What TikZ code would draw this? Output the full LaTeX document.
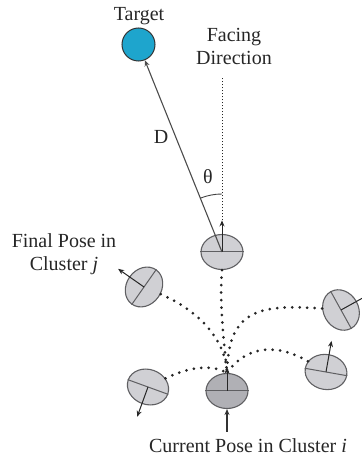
\documentclass[tikz,border=0pt]{standalone}
\usepackage{fontspec}
\setmainfont{Liberation Serif}
\newfontfamily\labelfont{Liberation Serif}
\usetikzlibrary{arrows.meta,shapes.geometric,calc}
\definecolor{targetblue}{RGB}{30,165,205}
\definecolor{poselight}{RGB}{208,208,212}
\definecolor{posedark}{RGB}{176,176,181}
\definecolor{edgegray}{RGB}{95,95,98}
\begin{document}
\begin{tikzpicture}[x=1pt,y=1pt,
  every node/.style={font=\labelfont\fontsize{20}{23}\selectfont,text=black!85},
  pose/.style={ellipse,draw=edgegray,line width=1.1pt,fill=poselight,
    minimum width=42pt,minimum height=35pt,inner sep=0pt},
  curpose/.style={pose,fill=posedark},
  tip/.style={-{Stealth[length=6pt,width=5pt]}},
  facing/.style={tip,line width=1pt,draw=black!85},
  diam/.style={line width=1pt,draw=edgegray},
  pathdots/.style={line width=3pt,line cap=round,dash pattern=on 0pt off 7.5pt,draw=black!85},
  finedots/.style={line width=1pt,dash pattern=on 1pt off 2pt,draw=black!85}]
\useasboundingbox (0,0) rectangle (362,459);

% target
\node[circle,draw=black!80,line width=1pt,fill=targetblue,minimum size=33pt,inner sep=0pt] (target) at (138.5,414.5) {};
\node (tlabel) at (139,443) {Target};
\node[align=center] (flabel) at (234,413) {Facing\\Direction};

% poses: ellipse, diameter and facing arrow
\node[pose] (p0) at (222,207) {};
\node[pose,rotate=55] (p1) at (144,172) {};
\node[pose,rotate=-61] (p2) at (341,149) {};
\node[pose,rotate=-10] (p3) at (326,87) {};
\node[pose,rotate=160] (p4) at (148,72) {};
\node[curpose] (p5) at (227,68) {};

\foreach \p in {p0,p1,p2,p3,p4,p5}{
  \draw[diam] (\p.west) -- (\p.east);
}
\coordinate (f0) at ($(p0.center)!1.75!(p0.north)$);
\coordinate (f1) at ($(p1.center)!1.75!(p1.north)$);
\coordinate (f2) at ($(p2.center)!1.75!(p2.north)$);
\coordinate (f3) at ($(p3.center)!1.75!(p3.north)$);
\coordinate (f4) at ($(p4.center)!1.75!(p4.north)$);
\coordinate (f5) at ($(p5.center)!1.3!(p5.north)$);
\foreach \p in {0,...,5}{
  \draw[facing] (p\p.center) -- (f\p);
}

% distance and bearing to the target
\coordinate (ftop) at (222,381);
\draw[finedots] (f0) -- (ftop);
\draw[tip,line width=1.1pt,draw=black!70] (p0.center) -- (target);
\draw[line width=0.9pt,draw=black!75] ($(p0.center)+(90:58)$) arc[start angle=90,end angle=112,radius=58];
\node (dlabel) at (161,322) {D};
\node (thlabel) at (208,282) {θ};

% candidate paths from the current pose
\draw[pathdots] (p0.south) .. controls (219,150) and (225,110) .. (p5.north);
\draw[pathdots] (p1) .. controls (200,148) and (226,118) .. (p5.north);
\draw[pathdots] (p2) .. controls (260,155) and (228,150) .. (p5.north);
\draw[pathdots] (p3) .. controls (275,117) and (245,112) .. (p5.north);
\draw[pathdots] (p4) .. controls (195,95) and (215,93) .. (p5.north);

% labels
\node[align=center] (jlabel) at (64,205) {Final Pose in\\Cluster \textit{j}};
\node[anchor=base] (ilabel) at (248,6) {Current Pose in Cluster \textit{i}};
\coordinate (cb) at (227,27);
\draw[tip,line width=1.1pt,draw=black!80] (cb) -- (p5.south);
\end{tikzpicture}
\end{document}
